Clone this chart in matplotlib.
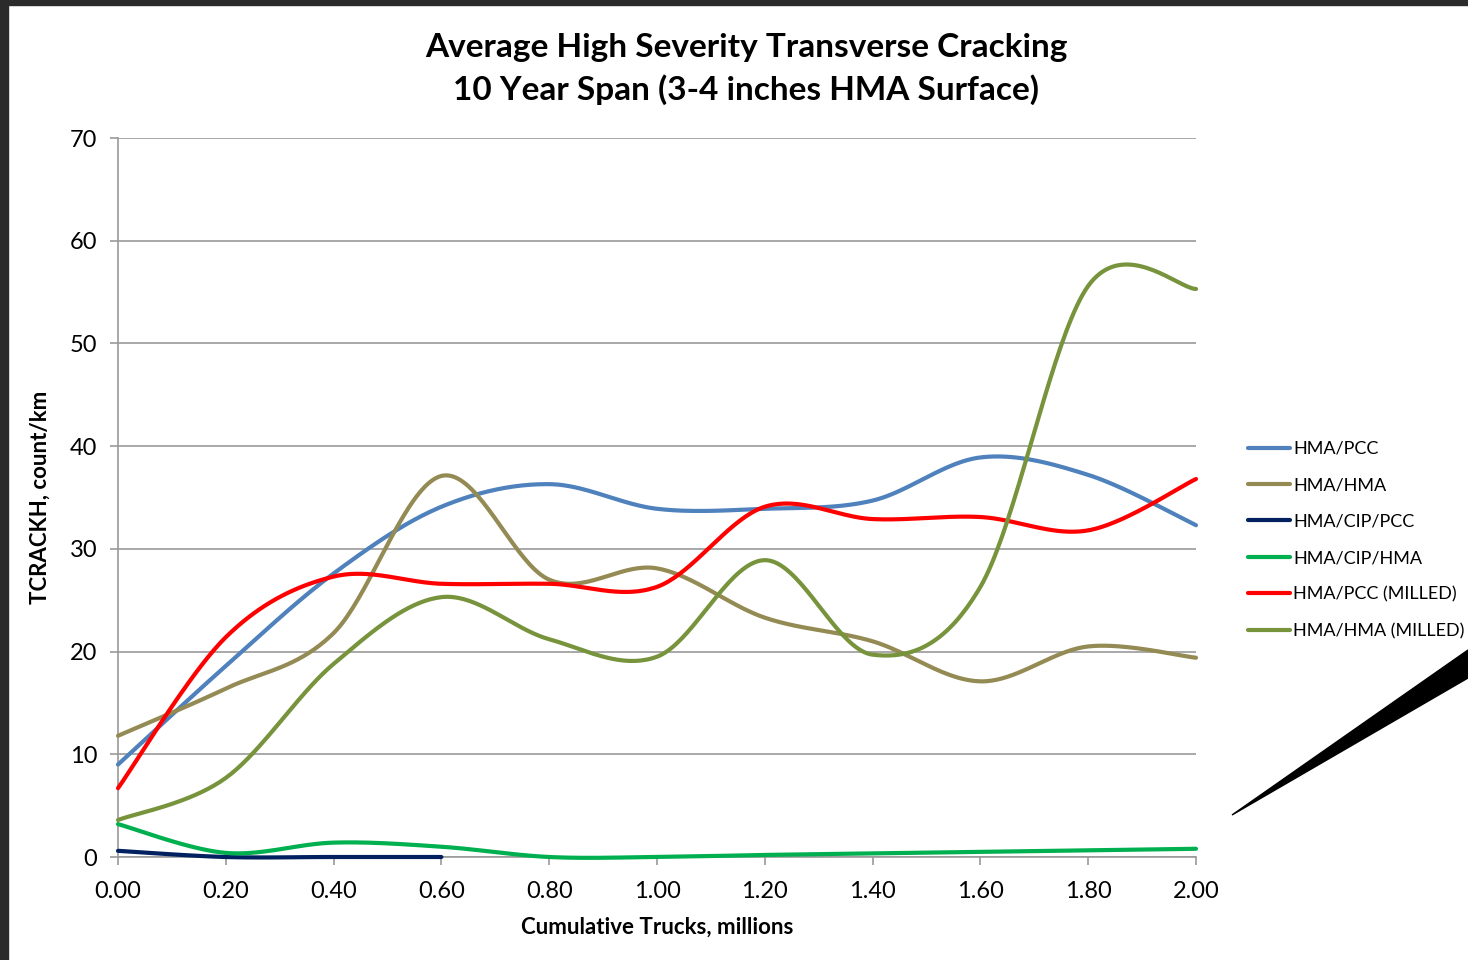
import numpy as np
import matplotlib.pyplot as plt
from matplotlib.patches import Polygon, Rectangle

# cumulative trucks (millions), one point every 0.2
trucks = [0.0, 0.2, 0.4, 0.6, 0.8, 1.0, 1.2, 1.4, 1.6, 1.8, 2.0]

hma_pcc = [9.0, 18.6, 27.6, 34.1, 36.3, 33.9, 33.9, 34.7, 38.9, 37.2, 32.3]
hma_hma = [11.8, 16.4, 21.8, 37.1, 27.0, 28.1, 23.3, 21.0, 17.1, 20.5, 19.4]
hma_cip_pcc = [0.6, 0.0, 0.0, 0.0]
hma_cip_hma = [3.2, 0.4, 1.4, 1.0, 0.0, 0.0, 0.2, 0.35, 0.5, 0.65, 0.8]
hma_pcc_milled = [6.7, 21.4, 27.3, 26.6, 26.6, 26.3, 34.1, 32.9, 33.1, 31.8, 36.8]
hma_hma_milled = [3.6, 7.7, 18.8, 25.3, 21.2, 19.5, 28.9, 19.7, 26.3, 55.6, 55.3]

series = [
    ("HMA/PCC", hma_pcc, "#4F81BD"),
    ("HMA/HMA", hma_hma, "#948A54"),
    ("HMA/CIP/PCC", hma_cip_pcc, "#002060"),
    ("HMA/CIP/HMA", hma_cip_hma, "#00B050"),
    ("HMA/PCC (MILLED)", hma_pcc_milled, "#FF0000"),
    ("HMA/HMA (MILLED)", hma_hma_milled, "#77933C"),
]


def smooth(xs, ys, n=40):
    # excel style smoothed line: cubic bezier, control points from neighbours / 6
    p = np.column_stack([xs, ys]).astype(float)
    out = [p[0]]
    for i in range(len(p) - 1):
        p0 = p[i - 1] if i > 0 else p[i]
        p3 = p[i + 2] if i + 2 < len(p) else p[i + 1]
        c1 = p[i] + (p[i + 1] - p0) / 6.0
        c2 = p[i + 1] - (p3 - p[i]) / 6.0
        t = np.linspace(0, 1, n)[1:, None]
        seg = ((1 - t) ** 3) * p[i] + 3 * ((1 - t) ** 2) * t * c1 + 3 * (1 - t) * t ** 2 * c2 + t ** 3 * p[i + 1]
        out.extend(seg)
    out = np.array(out)
    return out[:, 0], out[:, 1]


plt.rcParams['font.family'] = ['Lato', 'DejaVu Sans']

fig = plt.figure(figsize=(14.68, 9.6), dpi=100)
ax = fig.add_axes([118 / 1468, 1 - 857 / 960, (1196 - 118) / 1468, (857 - 138) / 960])

for name, vals, col in series:
    sx, sy = smooth(trucks[:len(vals)], vals)
    ax.plot(sx, sy, color=col, lw=3, label=name, solid_capstyle='round', clip_on=False, zorder=3)

ax.set_xlim(0, 2.0)
ax.set_ylim(0, 70)
ax.set_xticks(trucks)
ax.set_xticklabels([f"{v:.2f}" for v in trucks])
ax.set_yticks(range(0, 71, 10))
ax.yaxis.grid(True, color="#9A9A9A", lw=1.2)
ax.set_axisbelow(True)
for s in ["top", "right"]:
    ax.spines[s].set_visible(False)
for s in ["left", "bottom"]:
    ax.spines[s].set_color("#9A9A9A")
    ax.spines[s].set_linewidth(1.2)
ax.tick_params(axis="both", direction="out", length=6, width=1.2, color="#9A9A9A", labelsize=17)
ax.tick_params(axis="y", pad=9)
ax.tick_params(axis="x", pad=11)

ax.set_xlabel("Cumulative Trucks, millions", fontsize=16, fontweight="bold", labelpad=11)
ax.set_ylabel("TCRACKH, count/km", fontsize=16, fontweight="bold")
ax.yaxis.set_label_coords(-0.062, 0.5)

fig.text(746 / 1468, 1 - 69 / 960, "Average High Severity Transverse Cracking\n10 Year Span (3-4 inches HMA Surface)",
         ha="center", va="center", fontsize=24, fontweight="bold", linespacing=1.5)

ax.legend(loc="center left", bbox_to_anchor=(1248 / 1468, 1 - 540 / 960), bbox_transform=fig.transFigure,
          frameon=False, fontsize=13, handlelength=2.33, handletextpad=0.17, labelspacing=1.13,
          borderpad=0, borderaxespad=0)

# dark slide frame and pointer wedge
fig.patches.append(Rectangle((0, 0), 8 / 1468, 1, transform=fig.transFigure, color="#2b2b2b"))
fig.patches.append(Rectangle((0, 1 - 5 / 960), 1, 5 / 960, transform=fig.transFigure, color="#2b2b2b"))
fig.patches.append(Polygon([(1232 / 1468, 1 - 815 / 960), (1, 1 - 650 / 960), (1, 1 - 678 / 960)],
                           closed=True, transform=fig.transFigure, color="black"))

fig.savefig("out.png", dpi=100)
